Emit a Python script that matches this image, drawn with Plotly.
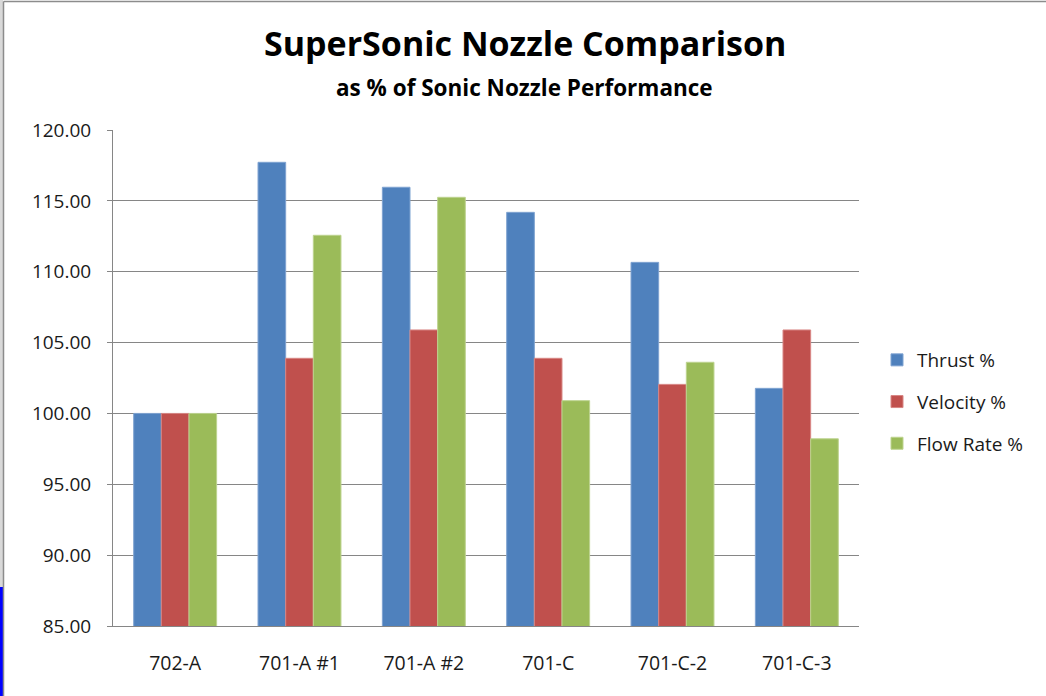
import plotly.graph_objects as go

categories = ["702-A", "701-A #1", "701-A #2", "701-C", "701-C-2", "701-C-3"]
thrust = [100.0, 117.72, 115.96, 114.19, 110.66, 101.77]
velocity = [100.0, 103.89, 105.89, 103.89, 102.05, 105.89]
flow_rate = [100.0, 112.57, 115.25, 100.90, 103.61, 98.21]
y_ticks = [85, 90, 95, 100, 105, 110, 115, 120]
y_tick_labels = ["85.00", "90.00", "95.00", "100.00", "105.00", "110.00", "115.00", "120.00"]

W, H = 1046, 696
L, R, T, B = 113, 187, 130, 70
FONT = "Open Sans"

fig = go.Figure()
series = [("Thrust %", thrust, "#4F81BD", "#7FA3D1", "g1"),
          ("Velocity %", velocity, "#C0504D", "#D88684", "g2"),
          ("Flow Rate %", flow_rate, "#9BBB59", "#BDD38F", "g3")]
for name, vals, col, edge, grp in series:
    fig.add_trace(go.Bar(x=categories, y=vals, name=name, legendgroup=grp,
                         marker=dict(color=col, line=dict(color=edge, width=1))))

def px_x(p):
    return (p - L) / (W - L - R)

def px_y(p):
    return (H - B - p) / (H - T - B)

shapes = [
    dict(type="rect", xref="paper", yref="paper", x0=px_x(0), x1=px_x(3), y0=px_y(696), y1=px_y(0),
         fillcolor="#D9D9D9", line=dict(width=0), layer="below"),
    dict(type="rect", xref="paper", yref="paper", x0=px_x(0), x1=px_x(3), y0=px_y(696), y1=px_y(587),
         fillcolor="#0000FF", line=dict(width=0), layer="below"),
    dict(type="line", xref="paper", yref="paper", x0=px_x(3.5), x1=px_x(3.5), y0=px_y(696), y1=px_y(1.5),
         line=dict(color="#8C8C8C", width=1.5)),
    dict(type="line", xref="paper", yref="paper", x0=px_x(3.5), x1=px_x(1046), y0=px_y(1.5), y1=px_y(1.5),
         line=dict(color="#8C8C8C", width=1.5)),
]

fig.update_layout(
    width=W, height=H,
    margin=dict(l=L, r=R, t=T, b=B, pad=0),
    paper_bgcolor="white", plot_bgcolor="white",
    barmode="group", bargap=0.333, bargroupgap=0,
    showlegend=True,
    legend=dict(x=px_x(877), xanchor="left", y=px_y(402), yanchor="middle",
                font=dict(family=FONT, size=19, color="#1a1a1a"),
                traceorder="grouped", tracegroupgap=14, itemwidth=30,
                bgcolor="rgba(0,0,0,0)"),
    annotations=[
        dict(text="<b>SuperSonic Nozzle Comparison</b>", xref="paper", yref="paper",
             x=px_x(525), y=px_y(43), xanchor="center", yanchor="middle", showarrow=False,
             font=dict(family=FONT, size=34, color="black")),
        dict(text="<b>as % of Sonic Nozzle Performance</b>", xref="paper", yref="paper",
             x=px_x(524), y=px_y(87), xanchor="center", yanchor="middle", showarrow=False,
             font=dict(family=FONT, size=22.5, color="black")),
    ],
    shapes=shapes,
    xaxis=dict(showline=True, linecolor="#868686", linewidth=1, ticks="",
               tickfont=dict(family=FONT, size=19.5, color="#1a1a1a"),
               ticklabelstandoff=20, showgrid=False),
    yaxis=dict(range=[85, 120], tickvals=y_ticks, ticktext=y_tick_labels,
               showline=True, linecolor="#868686", linewidth=1,
               ticks="outside", ticklen=5, tickcolor="#868686",
               showgrid=True, gridcolor="#868686", gridwidth=1,
               tickfont=dict(family=FONT, size=19, color="#1a1a1a"),
               ticklabelstandoff=12, zeroline=False),
)

fig.write_html("out.html", config={"displayModeBar": False},
               post_script="document.body.style.margin='0';")
